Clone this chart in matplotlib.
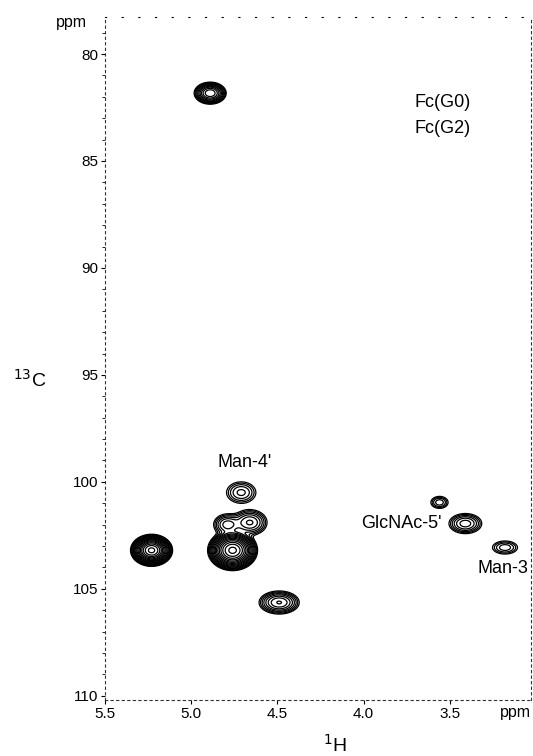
import numpy as np
import matplotlib
matplotlib.use("Agg")
import matplotlib.pyplot as plt

plt.rcParams['font.family'] = ['Liberation Sans', 'DejaVu Sans']

# cross peaks: 1H shift, 13C shift, visible width (ppm), visible height (ppm), relative intensity
peak_h = [4.89, 4.71, 4.79, 4.66, 4.76, 5.23, 4.49, 3.56, 3.41, 3.18]
peak_c = [81.83, 100.5, 102.0, 101.9, 103.2, 103.2, 105.64, 100.96, 101.95, 103.07]
peak_dh = [0.186, 0.17, 0.16, 0.20, 0.29, 0.244, 0.233, 0.10, 0.19, 0.145]
peak_dc = [1.03, 1.0, 1.0, 1.2, 1.9, 1.5, 1.08, 0.56, 0.94, 0.61]
peak_amp = [40, 5, 8, 10, 300, 300, 14, 4, 8, 4]

x_ticks = [5.5, 5.0, 4.5, 4.0, 3.5]
x_labels = ['5.5', '5.0', '4.5', '4.0', '3.5']
y_ticks = [80, 85, 90, 95, 100, 105, 110]

labels = ["Man-4'", "GlcNAc-5'", "Man-3"]
label_h = [4.69, 3.78, 3.19]
label_c = [99.1, 101.95, 104.05]

fig = plt.figure(figsize=(5.33, 7.56), dpi=100)
ax = fig.add_axes([0.197, 0.074, 0.799, 0.9035])

H = np.linspace(3.0, 5.55, 700)
C = np.linspace(78.0, 110.5, 900)
HH, CC = np.meshgrid(H, C)
Z = np.zeros_like(HH)
for h, c, dh, dc, a in zip(peak_h, peak_c, peak_dh, peak_dc, peak_amp):
    k = np.sqrt(2 * np.log(a))
    sh = dh / 2 / k
    sc = dc / 2 / k
    Z += a * np.exp(-((HH - h) ** 2 / (2 * sh ** 2) + (CC - c) ** 2 / (2 * sc ** 2)))

levels = 1.0 * 1.45 ** np.arange(0, 18)
ax.contour(HH, CC, Z, levels=levels, colors='black', linewidths=0.9)

ax.set_xlim(5.5, 3.03)
ax.set_ylim(110.2, 78.27)

ax.set_xticks(x_ticks)
ax.set_xticklabels(x_labels)
ax.set_yticks(y_ticks)
ax.tick_params(axis='both', direction='out', length=3, width=0.8, labelsize=11, pad=2)
ax.set_yticks(np.arange(79, 111, 1), minor=True)
ax.tick_params(axis='y', which='minor', direction='out', length=2, width=0.6)

for s in ['left', 'bottom', 'right']:
    ax.spines[s].set_linestyle((0, (2, 3)))
    ax.spines[s].set_linewidth(0.8)
    ax.spines[s].set_color('#333333')
ax.spines['top'].set_linestyle((0, (1, 14)))
ax.spines['top'].set_linewidth(0.8)

for t, h, c in zip(labels, label_h, label_c):
    ax.text(h, c, t, fontsize=13, ha='center', va='center')

ax.text(3.54, 82.25, 'Fc(G0)', fontsize=13, ha='center', va='center')
ax.text(3.54, 83.5, 'Fc(G2)', fontsize=13, ha='center', va='center')

fig.text(71 / 533, 1 - 22 / 756, 'ppm', fontsize=11.5, ha='center', va='center')
fig.text(515 / 533, 1 - 713 / 756, 'ppm', fontsize=11.5, ha='center', va='center')
fig.text(30 / 533, 1 - 380 / 756, '$^{13}$C', fontsize=14, ha='center', va='center')
fig.text(335 / 533, 1 - 745 / 756, '$^{1}$H', fontsize=14, ha='center', va='center')

fig.savefig('out.png', dpi=100)
